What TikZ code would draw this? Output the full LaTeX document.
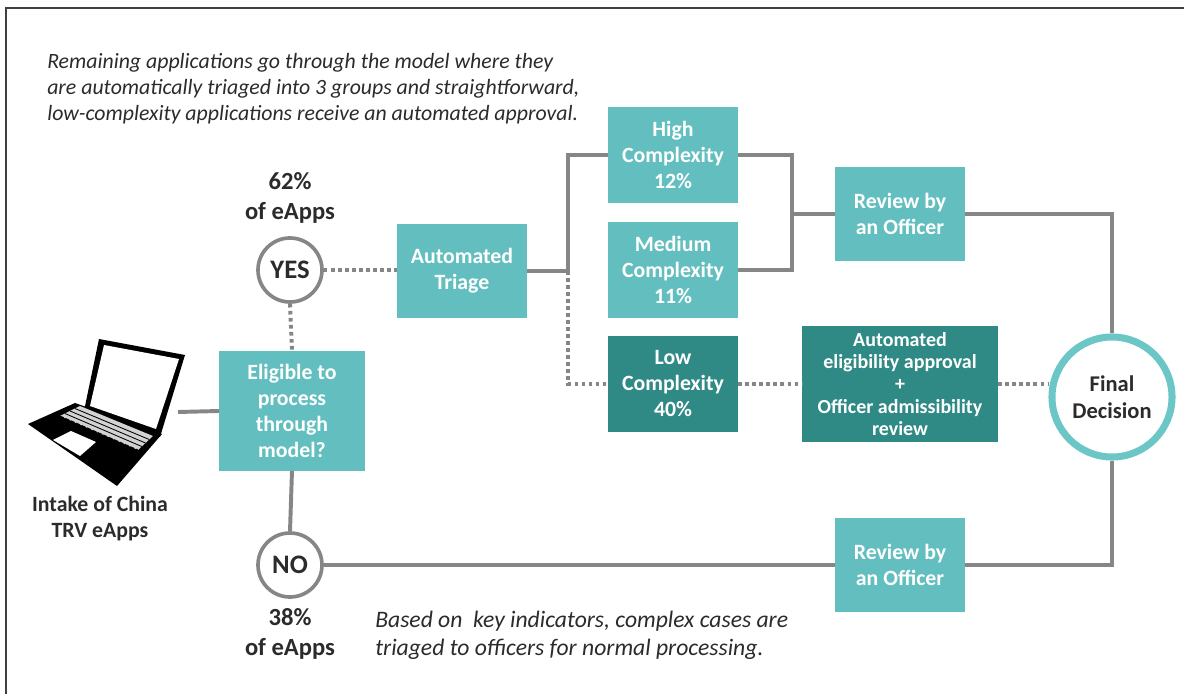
\documentclass[tikz,border=0pt]{standalone}
\usepackage{fontspec}
\setmainfont{Carlito}
\usetikzlibrary{calc}

\definecolor{tealL}{HTML}{63BFBF}
\definecolor{tealD}{HTML}{2F8A86}
\definecolor{lineG}{HTML}{868686}
\definecolor{ringT}{HTML}{6CC6C6}
\definecolor{txtG}{HTML}{2B2B2B}

\newcommand{\boxfont}{\fontsize{15.5}{18.5}\selectfont\bfseries}
\newcommand{\smallboxfont}{\fontsize{14.2}{15.8}\selectfont\bfseries}
\newcommand{\lblfont}{\fontsize{17.5}{21}\selectfont\bfseries}
\newcommand{\notefont}{\fontsize{15.5}{18.4}\selectfont\itshape}

\tikzset{
  lightbox/.style={fill=tealL, text=white, font=\boxfont, inner sep=0pt, align=center},
  darkbox/.style={fill=tealD, text=white, font=\boxfont, inner sep=0pt, align=center},
  ring/.style={circle, draw=lineG, fill=white, line width=2.6pt, inner sep=0pt,
    minimum size=1.6cm, text=txtG, font=\fontsize{19}{22}\selectfont\bfseries},
  finalring/.style={circle, draw=ringT, fill=white, line width=5pt, inner sep=0pt,
    minimum size=3cm, text=txtG, align=center, font=\fontsize{16}{19.5}\selectfont\bfseries},
  link/.style={draw=lineG, line width=2.8pt},
  dotlink/.style={draw=lineG, line width=2.8pt, dash pattern=on 2.6pt off 2.4pt},
  lbl/.style={text=txtG, align=center, font=\lblfont},
  note/.style={text=txtG, align=left, font=\notefont, inner sep=0pt}
}

\begin{document}
\begin{tikzpicture}[x=0.025cm, y=-0.025cm]
            \useasboundingbox (0,0) rectangle (1184,694);%

            % Frame on top and left
            \draw [line width=1.2pt, black!75] (6,694) -- (6,8) -- (1184,8);%

            % Notes
            \node [note, anchor=north west] (topnote) at (47,53) {Remaining applications go through the model where they\\are automatically triaged into 3 groups and straightforward,\\low-complexity applications receive an automated approval.};%
            \node [note, anchor=west, font=\fontsize{16.8}{20}\selectfont\itshape] (botnote) at (375,635) {Based on\ \ key indicators, complex cases are\\triaged to officers for normal processing.};%

            % Laptop
            \fill [black] (99,339) -- (185,355) -- (160,437) -- (84,411) -- cycle;%
            \fill [white] (104,345) -- (179,359) -- (156,429) -- (90,406) -- cycle;%
            \fill [black] (28,424) -- (75,403) -- (162,434) -- (117,486) -- cycle;%
            \fill [gray!35] (60,416) -- (80,406) -- (153,436) -- (138,450) -- cycle;%
            \foreach \k in {0.25,0.5,0.75}
              \draw [black, line width=0.6pt] ($(60,416)!\k!(80,406)$) -- ($(138,450)!\k!(153,436)$);%
            \draw [black, line width=0.6pt, dash pattern=on 3pt off 1.2pt] (60,416) -- (138,450);%
            \fill [white] (53,440) -- (71,431) -- (96,442) -- (80,456) -- cycle;%
            \coordinate (lap) at (178,412);%
            \node [lbl, font=\boxfont] (intake) at (100,519) {Intake of China\\TRV eApps};%

            % Boxes
            \node [lightbox, minimum width=3.625cm, minimum height=2.975cm] (elig) at (292,411) {Eligible to\\process\\through\\model?};%
            \node [lightbox, minimum width=3.225cm, minimum height=2.35cm] (triage) at (462,271) {Automated\\Triage};%
            \node [lightbox, minimum width=3.25cm, minimum height=2.375cm] (high) at (673,155) {High\\Complexity\\12\%};%
            \node [lightbox, minimum width=3.25cm, minimum height=2.375cm] (med) at (673,270) {Medium\\Complexity\\11\%};%
            \node [darkbox, minimum width=3.25cm, minimum height=2.375cm] (low) at (673,384) {Low\\Complexity\\40\%};%
            \node [lightbox, minimum width=3.225cm, minimum height=2.325cm] (rev1) at (900,214) {Review by\\an Officer};%
            \node [darkbox, font=\smallboxfont, minimum width=4.9cm, minimum height=2.875cm] (auto) at (900,384) {Automated\\eligibility approval\\+\\Officer admissibility\\review};%
            \node [lightbox, minimum width=3.225cm, minimum height=2.325cm] (rev2) at (900,565) {Review by\\an Officer};%

            % Circles
            \node [ring] (yes) at (290,270) {YES};%
            \node [ring] (no) at (290,565) {NO};%
            \node [finalring] (fin) at (1112,397) {Final\\Decision};%
            \node [lbl] (yespct) at (290,198) {62\%\\of eApps};%
            \node [lbl] (nopct) at (290,634) {38\%\\of eApps};%

            % Connectors
            \coordinate (split) at (568,271);%
            \coordinate (join) at (792,214);%
            \draw [link] (lap) -- (elig.west);%
            \draw [dotlink] (yes.south) -- (elig.north);%
            \draw [dotlink] (yes.east) -- (yes.east -| triage.west);%
            \draw [link] (elig.south) -- (no.north);%
            \draw [link] (triage.east) -- (split);%
            \draw [link] (split) |- (high.west);%
            \draw [dotlink] (split) |- (low.west);%
            \draw [link] (high.east) -| (join) |- (med.east);%
            \draw [link] (join) -- (rev1.west);%
            \draw [link] (rev1.east) -| (fin.north);%
            \draw [dotlink] (low.east) -- (auto.west);%
            \draw [dotlink] (auto.east) -- (auto.east -| fin.west);%
            \draw [link] (fin.south) |- (rev2.east);%
            \draw [link] (rev2.west) -- (no.east);%
        \end{tikzpicture}
\end{document}
